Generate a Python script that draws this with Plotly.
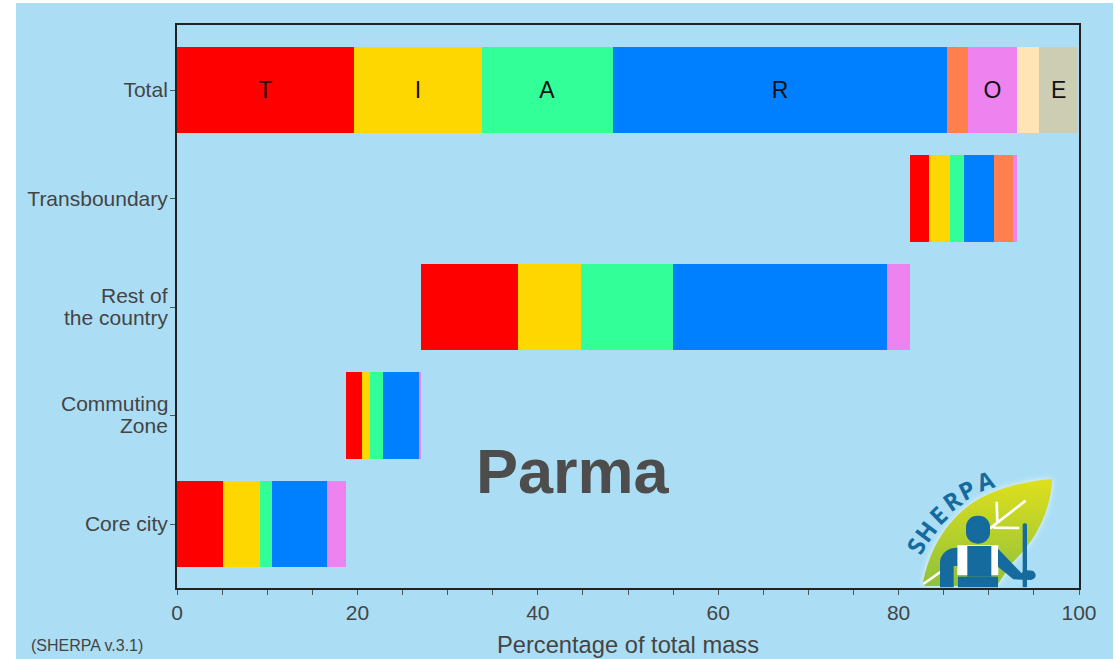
import base64
import plotly.graph_objects as go

categories = ["Core city", "Commuting Zone", "Rest of the country", "Transboundary", "Total"]
tick_labels = ["Core city", "", "", "Transboundary", "Total"]
two_line_labels = ["Rest of", "the country", "Commuting", "Zone"]
offset = [0, 18.75, 27.05, 81.3, 0]
series_names = ["T", "I", "A", "R", "N", "O", "S", "E"]
t_values = [5.05, 1.75, 10.75, 2.1, 19.6]
i_values = [4.1, 0.9, 7.0, 2.3, 14.2]
a_values = [1.35, 1.4, 10.2, 1.5, 14.5]
r_values = [6.1, 4.0, 23.7, 3.4, 37.1]
n_values = [0, 0, 0, 2.1, 2.3]
o_values = [2.15, 0.25, 2.6, 0.4, 5.4]
s_values = [0, 0, 0, 0, 2.5]
e_values = [0, 0, 0, 0, 4.3]
series_values = [t_values, i_values, a_values, r_values, n_values, o_values, s_values, e_values]
series_colors = ["#ff0000", "#ffd700", "#33ff99", "#0080ff", "#ff7f50", "#ee82ee", "#ffe4b5", "#cdcdb4"]
total_labels = ["T", "I", "A", "R", "", "O", "", "E"]

W, H = 1115, 659
L, R, T, B = 177, 1079, 25, 588
FONT = "Liberation Sans"


def px(x):
    return (x - L) / (R - L)


def py(y):
    return (B - y) / (B - T)


logo_svg = """<svg xmlns='http://www.w3.org/2000/svg' viewBox='0 0 660 597' width='660' height='597'>
<defs>
<linearGradient id='g' x1='0' y1='0' x2='0' y2='1'><stop offset='0' stop-color='#dfe01c'/><stop offset='1' stop-color='#8fc13c'/></linearGradient>
<filter id='b' x='-20%' y='-20%' width='140%' height='140%'><feGaussianBlur stdDeviation='9'/></filter>
<clipPath id='c'><rect x='0' y='0' width='660' height='382'/></clipPath>
</defs>
<g clip-path='url(#c)'>
<path d='M128 372 C150 260 205 170 300 115 C370 78 450 62 517 57 C512 150 470 240 395 310 L350 378 L135 378 Z' fill='#ffffff' opacity='0.75' filter='url(#b)'/>
<path d='M128 372 C150 260 205 170 300 115 C370 78 450 62 517 57 C512 150 470 240 395 310 L350 378 L135 378 Z' fill='url(#g)'/>
<path d='M130 372 L232 300 M330 205 L437 122 M350 125 L352 190 M340 203 L418 204' stroke='#ffffff' stroke-width='8' fill='none'/>
<path d='M232 256 H355 V345 H232 Z' fill='#ffffff'/>
<path d='M354 266 L425 340 L432 330 L458 332 C472 340 470 358 452 360 L400 358 L354 320 Z' fill='#156a9e'/>
<rect x='258' y='167' width='72' height='84' rx='34' fill='#156a9e'/>
<rect x='262' y='258' width='72' height='92' fill='#156a9e'/>
<rect x='234' y='350' width='120' height='34' fill='#156a9e'/>
<path d='M180 384 V305 C182 280 205 262 232 263 V318 H221 V384 Z' fill='#156a9e'/>
<rect x='428' y='190' width='13' height='194' rx='5' fill='#156a9e'/>
</g>
</svg>"""
logo_uri = "data:image/svg+xml;base64," + base64.b64encode(logo_svg.encode()).decode()

fig = go.Figure()
fig.add_trace(go.Bar(y=categories, x=offset, orientation="h", marker=dict(color="rgba(0,0,0,0)", line_width=0),
                     showlegend=False, hoverinfo="skip"))
for name, vals, col, lab in zip(series_names, series_values, series_colors, total_labels):
    fig.add_trace(go.Bar(
        y=categories, x=vals, name=name, orientation="h",
        marker=dict(color=col, line_width=0),
        text=["", "", "", "", lab], textposition="inside", insidetextanchor="middle",
        textangle=0, constraintext="none",
        textfont=dict(family=FONT, size=23, color="#111111"),
        showlegend=False,
    ))

annotations = [
    dict(text="Parma", x=px(573), y=py(471), xref="paper", yref="paper", showarrow=False,
         xanchor="center", yanchor="middle",
         font=dict(family=FONT, size=63, color="#4d4d4d", weight="bold")),
    dict(text="(SHERPA v.3.1)", x=px(87), y=py(645), xref="paper", yref="paper", showarrow=False,
         xanchor="center", yanchor="middle",
         font=dict(family=FONT, size=16, color="#444444")),
]
for line, yp in zip(two_line_labels, [295.5, 317.5, 403.5, 425.5]):
    annotations.append(dict(text=line, x=px(170), y=py(yp), xref="paper", yref="paper", showarrow=False,
                            xanchor="right", yanchor="middle",
                            font=dict(family=FONT, size=21, color="#444444")))
logo_letters = ["S", "H", "E", "R", "P", "A"]
logo_pos = [(105, 258), (135, 213), (172, 165), (215, 122), (260, 88), (315, 62)]
logo_rot = [-62, -53, -44, -35, -26, -18]
for ch, (zx, zy), rot in zip(logo_letters, logo_pos, logo_rot):
    annotations.append(dict(text=ch, x=px(880 + zx / 3), y=py(460 + zy / 3), xref="paper", yref="paper",
                            showarrow=False, textangle=rot, xanchor="center", yanchor="middle",
                            font=dict(family="Open Sans", size=24, color="#156a9e", weight="bold")))

fig.update_layout(
    width=W, height=H, autosize=False,
    margin=dict(l=L, r=W - R, t=T, b=H - B, pad=0, autoexpand=False),
    paper_bgcolor="#ffffff", plot_bgcolor="rgba(0,0,0,0)",
    barmode="stack", bargap=0.2,
    font=dict(family=FONT, size=20, color="#444444"),
    shapes=[dict(type="rect", xref="paper", yref="paper", x0=px(16), x1=px(1113), y0=py(3), y1=py(659),
                 fillcolor="#abdef5", line_width=0, layer="below")],
    images=[dict(source=logo_uri, xref="paper", yref="paper", x=px(880), y=py(460),
                 sizex=220 / (R - L), sizey=199 / (B - T), xanchor="left", yanchor="top",
                 sizing="stretch", layer="above")],
    annotations=annotations,
    xaxis=dict(range=[0, 100], dtick=20, tick0=0, ticks="outside", ticklen=5, tickwidth=1, tickcolor="#555555",
               minor=dict(dtick=5, ticks="outside", ticklen=5, tickwidth=1, tickcolor="#555555"),
               showgrid=False, zeroline=False, showline=True, linecolor="#222222", linewidth=2, mirror=True,
               automargin=False,
               tickfont=dict(family=FONT, size=21, color="#444444"),
               title=dict(text="Percentage of total mass", standoff=13,
                          font=dict(family=FONT, size=23.7, color="#444444"))),
    yaxis=dict(type="category", categoryorder="array", categoryarray=categories, range=[-0.59, 4.6],
               tickmode="array", tickvals=categories, ticktext=tick_labels,
               ticks="outside", ticklen=5, tickwidth=1, tickcolor="#555555",
               showgrid=False, zeroline=False, showline=True, linecolor="#222222", linewidth=2, mirror=True,
               automargin=False, ticklabelstandoff=-2,
               tickfont=dict(family=FONT, size=21, color="#444444")),
)

fig.write_html("out.html", config={"displayModeBar": False},
               post_script="document.body.style.margin='0';document.documentElement.style.overflow='hidden';window.dispatchEvent(new Event('resize'));")
